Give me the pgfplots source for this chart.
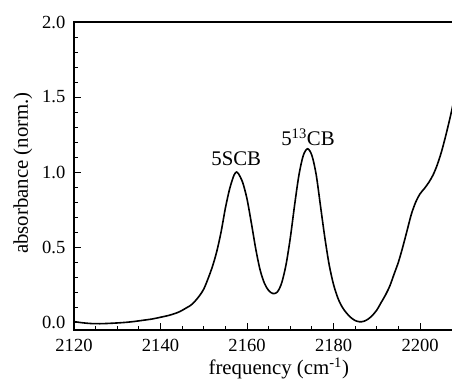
\documentclass[border=0pt]{standalone}
\usepackage{pgfplots}
\pgfplotsset{compat=1.18}
\usepackage{fontspec}
\setmainfont{Liberation Serif}
\begin{document}
\begin{tikzpicture}
\begin{axis}[
  scale only axis, width=288.75pt, height=231pt,
  xmin=2120, xmax=2209, ymin=-0.053, ymax=2.0,
  axis line style={line width=0.8pt},
  tick pos=left, tick align=inside,
  major tick length=5pt, minor tick length=3pt,
  tick style={black, line width=0.7pt},
  xtick={2120,2140,2160,2180,2200}, minor x tick num=3,
  ytick={0,0.5,1.0,1.5,2.0}, minor y tick num=4,
  /pgf/number format/assume math mode=true,
  xticklabel style={/pgf/number format/set thousands separator={}, font=\fontsize{13.9}{16}\selectfont, yshift=-3.5pt},
  yticklabel style={/pgf/number format/fixed, /pgf/number format/fixed zerofill, /pgf/number format/precision=1, font=\fontsize{13.9}{16}\selectfont, xshift=-3pt},
  xlabel={frequency (cm\textsuperscript{-1})},
  ylabel={absorbance (norm.)},
  label style={font=\fontsize{15.6}{18}\selectfont},
  xlabel style={at={(axis description cs:0.532,-0.1445)}, anchor=base},
  ylabel style={at={(axis description cs:-0.1325,0.51)}, anchor=center},
  clip=true,
]
\addplot[black, line width=1.2pt, smooth] table {
2120 0.003
2122 -0.005
2124 -0.01
2126 -0.011
2128 -0.009
2130 -0.006
2132 -0.002
2134 0.004
2136 0.012
2138 0.02
2140 0.032
2142 0.045
2144 0.064
2145 0.078
2146 0.095
2147 0.112
2148 0.14
2149 0.175
2150 0.22
2151 0.29
2152 0.37
2153 0.47
2154 0.6
2155 0.76
2156 0.89
2157 0.98
2157.6 1.0
2158 0.99
2159 0.93
2160 0.82
2161 0.66
2162 0.49
2163 0.35
2164 0.26
2165 0.21
2166 0.19
2167 0.2
2168 0.26
2169 0.38
2170 0.56
2171 0.78
2172 0.98
2173 1.11
2174 1.155
2175 1.11
2176 0.98
2177 0.77
2178 0.56
2179 0.38
2180 0.25
2181 0.16
2182 0.1
2183 0.06
2184 0.03
2185 0.01
2186 0.002
2187 0.005
2188 0.02
2189 0.045
2190 0.08
2191 0.13
2192 0.18
2193 0.24
2194 0.32
2195 0.4
2196 0.5
2197 0.61
2198 0.72
2199 0.8
2200 0.855
2201 0.89
2202 0.93
2203 0.98
2204 1.05
2205 1.14
2206 1.25
2207 1.37
2208 1.50
2209 1.62
};
\node[font=\fontsize{15.6}{18}\selectfont] at (axis cs:2157.5,1.09) {5SCB};
\node[font=\fontsize{15.6}{18}\selectfont] at (axis cs:2174.1,1.23) {5\textsuperscript{13}CB};
\coordinate (sw) at (rel axis cs:0,0);
\coordinate (nw) at (rel axis cs:0,1);
\end{axis}
\pgfresetboundingbox
\useasboundingbox ([shift={(-55.5pt,-39pt)}]sw) rectangle ([shift={(283.5pt,16.5pt)}]nw);
\end{tikzpicture}
\end{document}
